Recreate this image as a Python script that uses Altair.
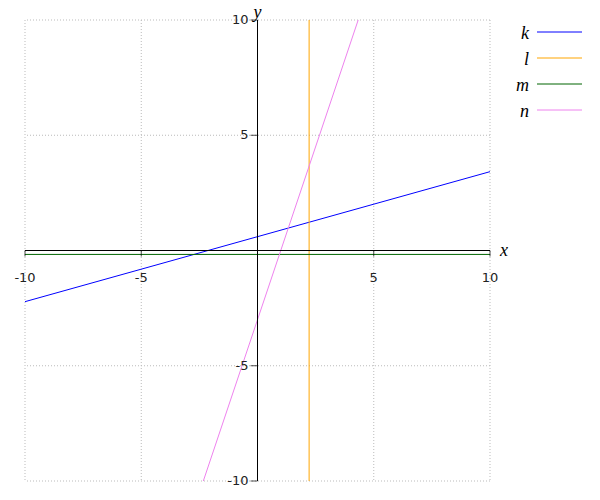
import altair as alt
import pandas as pd

# ---- data ----
series = ["k", "l", "m", "n"]
colors = ["#0000ff", "#ffa500", "#006400", "#ee82ee"]
k_x = [-10, 10]
k_y = [-2.22, 3.42]
l_x = [2.22, 2.22]
l_y = [-10, 10]
m_x = [-10, 10]
m_y = [-0.17, -0.17]
n_x = [-2.33, 4.33]
n_y = [-10, 10]
tick_vals = [-10, -5, 5, 10]
tick_labels = ["-10", "-5", "5", "10"]
grid_vals = [-10, -5, 5, 10]

rows = []
for name, xs_, ys_ in [("k", k_x, k_y), ("l", l_x, l_y), ("m", m_x, m_y), ("n", n_x, n_y)]:
    for i, (xv, yv) in enumerate(zip(xs_, ys_)):
        rows.append({"series": name, "x": xv, "y": yv, "o": i})
lines_df = pd.DataFrame(rows)
grid_df = pd.DataFrame({"v": grid_vals})
ticks_df = pd.DataFrame({"v": tick_vals, "lab": tick_labels, "zero": [0] * len(tick_vals)})
legend_df = pd.DataFrame({"series": series})

xs = alt.Scale(domain=[-10, 10], nice=False, zero=False)
ys = alt.Scale(domain=[-10, 10], nice=False, zero=False)
cs = alt.Scale(domain=series, range=colors)

W, H = 465, 461
serif = "Liberation Serif"
sans = "DejaVu Sans"

grid_x = alt.Chart(grid_df).mark_rule(color="#bbbbbb", strokeDash=[1, 2], strokeWidth=1).encode(
    x=alt.X("v:Q", scale=xs, axis=None)
)
grid_y = alt.Chart(grid_df).mark_rule(color="#bbbbbb", strokeDash=[1, 2], strokeWidth=1).encode(
    y=alt.Y("v:Q", scale=ys, axis=None)
)

lines = alt.Chart(lines_df).mark_line(strokeWidth=1, clip=True).encode(
    x=alt.X("x:Q", scale=xs, axis=None),
    y=alt.Y("y:Q", scale=ys, axis=None),
    color=alt.Color("series:N", scale=cs, legend=None),
    detail="series:N",
    order="o:Q",
)

# axes through the origin
x_axis = alt.Chart(grid_df).mark_rule(color="black", strokeWidth=1).encode(
    x=alt.X(datum=-10, scale=xs), x2=alt.X2(datum=10), y=alt.Y(datum=0, scale=ys)
)
y_axis = alt.Chart(grid_df).mark_rule(color="black", strokeWidth=1).encode(
    y=alt.Y(datum=-10, scale=ys), y2=alt.Y2(datum=10), x=alt.X(datum=0, scale=xs)
)
x_ticks = alt.Chart(ticks_df).mark_tick(color="black", thickness=1, size=6, orient="vertical", yOffset=3).encode(
    x=alt.X("v:Q", scale=xs), y=alt.Y("zero:Q", scale=ys)
)
y_ticks = alt.Chart(ticks_df).mark_tick(color="black", thickness=1, size=7, orient="horizontal", xOffset=-3.5).encode(
    y=alt.Y("v:Q", scale=ys), x=alt.X("zero:Q", scale=xs)
)
x_labels = alt.Chart(ticks_df).mark_text(font=sans, fontSize=13, color="#222222", baseline="middle", dy=27).encode(
    x=alt.X("v:Q", scale=xs), y=alt.Y("zero:Q", scale=ys), text="lab:N"
)
y_labels = alt.Chart(ticks_df).mark_text(font=sans, fontSize=13, color="#222222", baseline="middle",
                                         align="right", dx=-9).encode(
    y=alt.Y("v:Q", scale=ys), x=alt.X("zero:Q", scale=xs), text="lab:N"
)

x_title = alt.Chart(pd.DataFrame({"t": ["x"]})).mark_text(
    font=serif, fontStyle="italic", fontSize=18, align="left", baseline="middle", dx=10, color="black"
).encode(x=alt.X(datum=10, scale=xs), y=alt.Y(datum=0, scale=ys), text="t:N")
y_title = alt.Chart(pd.DataFrame({"t": ["y"]})).mark_text(
    font=serif, fontStyle="italic", fontSize=18, align="left", baseline="alphabetic", dx=-4, dy=-2, color="black"
).encode(x=alt.X(datum=0, scale=xs), y=alt.Y(datum=10, scale=ys), text="t:N")

main = alt.layer(grid_x, grid_y, lines, x_axis, y_axis, x_ticks, y_ticks, x_labels, y_labels, x_title, y_title)

ly = alt.Y("series:N", scale=alt.Scale(type="point", domain=series, range=[12, 90], padding=0), axis=None)
leg_rule = alt.Chart(legend_df).mark_rule(strokeWidth=1).encode(
    x=alt.value(512), x2=alt.value(557), y=ly,
    color=alt.Color("series:N", scale=cs, legend=None),
)
leg_text = alt.Chart(legend_df).mark_text(
    font=serif, fontStyle="italic", fontSize=18, align="right", baseline="middle", dy=2, color="black"
).encode(x=alt.value(504), y=ly, text="series:N")
legend = alt.layer(leg_rule, leg_text)

chart = alt.layer(main, legend).resolve_scale(y="independent").properties(
    width=W, height=H,
    padding={"left": 17, "top": 12, "right": 102, "bottom": 11},
    autosize=alt.AutoSizeParams(type="none"),
).configure_view(stroke=None)

chart.save("out.html", embed_options={"renderer": "svg", "actions": False})
